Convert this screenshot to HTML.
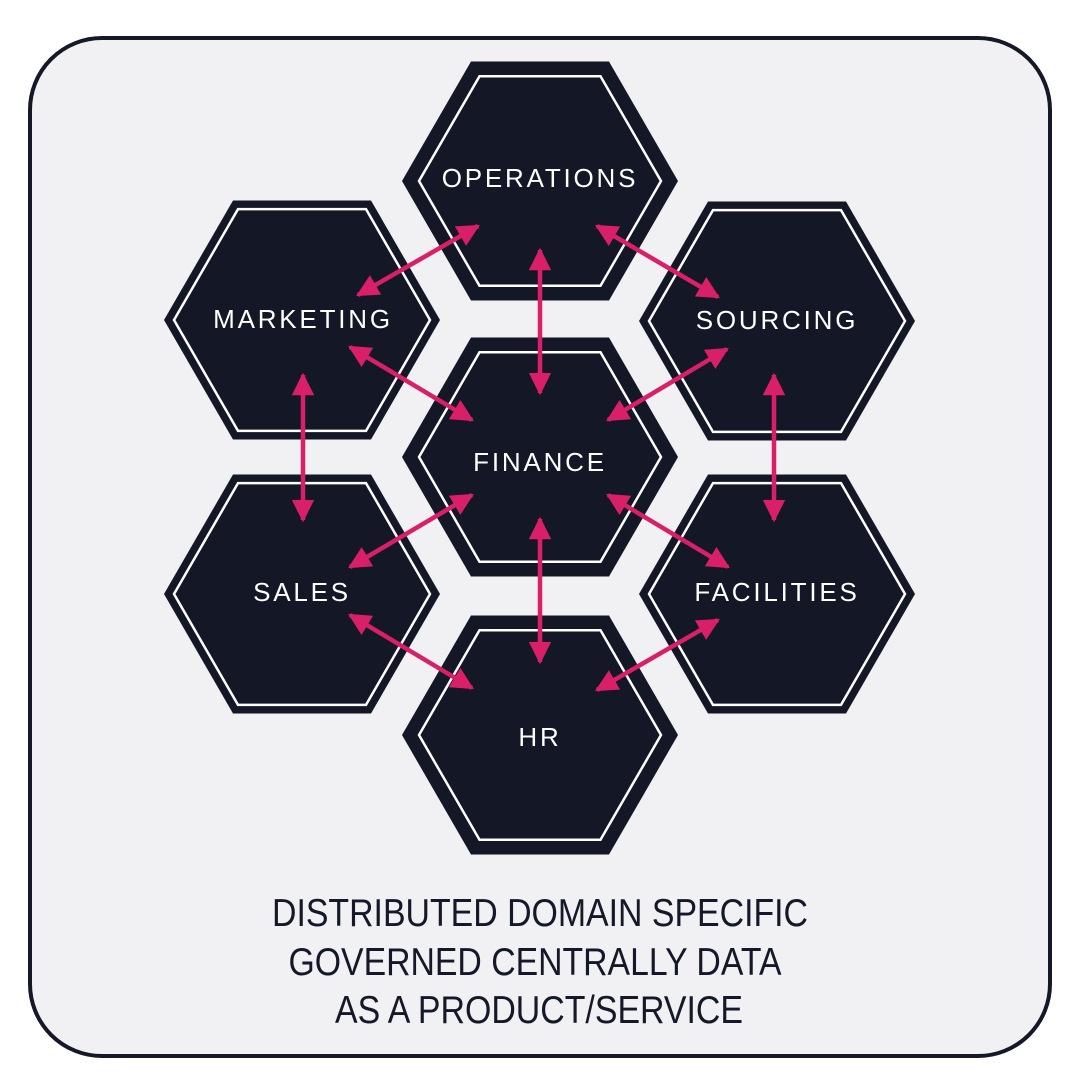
<!DOCTYPE html>
<html><head><meta charset="utf-8"><style>
html,body{margin:0;padding:0;background:#fff;}
svg{display:block;}
.lbl{font-family:"Liberation Sans",sans-serif;font-size:26px;fill:#fff;letter-spacing:2.8px;text-anchor:middle;}
.cap{font-family:"Liberation Sans Narrow","Liberation Sans",sans-serif;font-size:39px;fill:#141828;text-anchor:middle;}
.o{fill:#131726;}
.i{fill:none;stroke:#fff;stroke-width:2.5;}
</style></head><body>
<svg width="1080" height="1080" viewBox="0 0 1080 1080" xmlns="http://www.w3.org/2000/svg">
<defs>
<marker id="ah" viewBox="0 0 10 10" refX="9" refY="5" markerWidth="5" markerHeight="5" orient="auto-start-reverse" markerUnits="strokeWidth">
<path d="M0,0 L10,5 L0,10 z" fill="#d81f67"/>
</marker>
</defs>
<rect x="30" y="38" width="1020" height="1018" rx="72" ry="72" fill="#f1f1f3" stroke="#141828" stroke-width="4"/>

<polygon class="o" points="678,181 609,300.5 471,300.5 402,181 471,61.5 609,61.5"/>
<polygon class="i" points="661,181 600.5,285.8 479.5,285.8 419,181 479.5,76.2 600.5,76.2"/>
<text class="lbl" x="540" y="187">OPERATIONS</text>

<polygon class="o" points="440,320 371,439.5 233,439.5 164,320 233,200.5 371,200.5"/>
<polygon class="i" points="430,320 366,430.9 238,430.9 174,320 238,209.1 366,209.1"/>
<text class="lbl" x="303" y="328">MARKETING</text>

<polygon class="o" points="915,321 846,440.5 708,440.5 639,321 708,201.5 846,201.5"/>
<polygon class="i" points="905,321 841,431.9 713,431.9 649,321 713,210.1 841,210.1"/>
<text class="lbl" x="777" y="329">SOURCING</text>

<polygon class="o" points="678,457 609,576.5 471,576.5 402,457 471,337.5 609,337.5"/>
<polygon class="i" points="661,457 600.5,561.8 479.5,561.8 419,457 479.5,352.2 600.5,352.2"/>
<text class="lbl" x="540" y="471">FINANCE</text>

<polygon class="o" points="440,594 371,713.5 233,713.5 164,594 233,474.5 371,474.5"/>
<polygon class="i" points="430,594 366,704.9 238,704.9 174,594 238,483.1 366,483.1"/>
<text class="lbl" x="302" y="601">SALES</text>

<polygon class="o" points="915,594 846,713.5 708,713.5 639,594 708,474.5 846,474.5"/>
<polygon class="i" points="905,594 841,704.9 713,704.9 649,594 713,483.1 841,483.1"/>
<text class="lbl" x="777" y="601">FACILITIES</text>

<polygon class="o" points="678,735 609,854.5 471,854.5 402,735 471,615.5 609,615.5"/>
<polygon class="i" points="661,735 600.5,839.8 479.5,839.8 419,735 479.5,630.2 600.5,630.2"/>
<text class="lbl" x="540" y="746">HR</text>

<g stroke="#d81f67" stroke-width="4.5" marker-start="url(#ah)" marker-end="url(#ah)" fill="none">
<line x1="478" y1="226" x2="358" y2="295"/>
<line x1="597" y1="226" x2="718" y2="297"/>
<line x1="540" y1="250" x2="540" y2="393"/>
<line x1="350" y1="347" x2="472" y2="420"/>
<line x1="727" y1="349" x2="608" y2="420"/>
<line x1="303" y1="375" x2="303" y2="520"/>
<line x1="774" y1="375" x2="774" y2="520"/>
<line x1="472" y1="495" x2="350" y2="567"/>
<line x1="608" y1="495" x2="728" y2="567"/>
<line x1="540" y1="519" x2="540" y2="662"/>
<line x1="350" y1="615" x2="472" y2="688"/>
<line x1="718" y1="620" x2="597" y2="690"/>
</g>
<text class="cap" x="540" y="926" textLength="536" lengthAdjust="spacingAndGlyphs">DISTRIBUTED DOMAIN SPECIFIC</text>
<text class="cap" x="535" y="975" textLength="493" lengthAdjust="spacingAndGlyphs">GOVERNED CENTRALLY DATA</text>
<text class="cap" x="539" y="1023" textLength="408" lengthAdjust="spacingAndGlyphs">AS A PRODUCT/SERVICE</text>
</svg>
</body></html>
